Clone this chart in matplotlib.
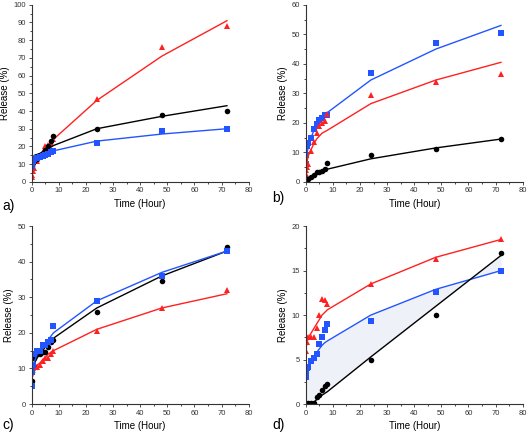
import numpy as np
import matplotlib.pyplot as plt
from matplotlib.ticker import MultipleLocator

plt.rcParams['font.family'] = ['Liberation Sans', 'DejaVu Sans']

# sampling times (hours)
t = [0, 0.25, 0.5, 1, 2, 3, 4, 5, 6, 7, 8, 24, 48, 72]

# panel a
a_red_pts = [2.5, 4, 6, 8, 12, 14, 17, 20, 21, 22, 24, 47, 76, 88]
a_red_fit = [4, 5, 7, 9, 12, 14.5, 17, 19, 20.5, 22, 24, 46, 71, 91]
a_black_pts = [9, 10, 11, 12, 13, 15, 16, 18, 20, 23, 26, 30, 38, 40]
a_black_fit = [10, 13, 14, 15, 15.5, 16, 17, 18, 18.5, 19.5, 20.5, 30, 37, 43]
a_blue_pts = [9, 11, 12, 13, 13.5, 14, 14.5, 15, 16, 17, 17.5, 22, 28.5, 30]
a_blue_fit = [8, 11, 13, 14, 14.5, 15, 15.5, 16, 16.5, 17, 17.5, 23, 27, 30]

# panel b
b_blue_pts = [6, 9, 12, 13, 15, 18, 19.5, 21, 21.5, 22.5, 22.5, 37, 47, 50.5]
b_blue_fit = [4, 8, 10, 12, 15, 17.5, 19, 20.5, 21.5, 22.5, 23.5, 34.5, 45, 53]
b_red_pts = [2.5, 4, 5, 6, 10.5, 13.5, 16.5, 19, 20, 20.5, 23, 29.5, 34, 36.5]
b_red_fit = [3, 5, 7, 9, 11, 13, 14.5, 15.5, 16.5, 17, 17.5, 26.5, 34.5, 40.5]
b_black_pts = [0, 0.5, 0.8, 1, 1.5, 2.3, 3.2, 3.5, 3.8, 4.5, 6.5, 9, 11, 14.5]
b_black_fit = [0, 0.5, 0.8, 1.2, 1.8, 2.3, 2.8, 3.2, 3.6, 4, 4.3, 7.8, 11.5, 14.5]

# panel c
c_blue_pts = [5, 9, 11, 14, 15, 15, 16.5, 16.5, 17.5, 18, 22, 29, 36, 43]
c_blue_fit = [5, 8, 10, 12, 14, 15, 16, 17, 18, 19, 20, 29, 37, 43]
c_black_pts = [6.5, 9, 11, 13, 14, 14, 14.5, 14.5, 16, 17.5, 18, 26, 34.5, 44]
c_black_fit = [6, 8, 10, 11.5, 13, 14, 15, 16, 17, 17.5, 18.5, 27, 36, 43]
c_red_pts = [5.5, 9, 10, 10.5, 10.5, 11, 12, 13, 13, 14, 15, 20.5, 27, 32]
c_red_fit = [5, 7.5, 9, 10, 11, 11.5, 12.5, 13, 14, 14.5, 15, 21, 27, 31]

# panel d
d_red_pts = [6, 7, 7, 7.5, 7.5, 7.5, 8.5, 10, 11.8, 11.7, 11.3, 13.5, 16.3, 18.5]
d_red_fit = [6, 6.5, 7, 7.5, 8, 8.5, 9, 9.5, 10, 10.3, 10.6, 13.5, 16.5, 18.5]
d_blue_pts = [3, 3.5, 4, 4.2, 4.8, 5.2, 5.6, 6.7, 7.5, 8.3, 9, 9.3, 12.6, 15]
d_blue_fit = [2.8, 3.3, 3.6, 4.2, 4.8, 5.3, 5.8, 6.2, 6.6, 6.9, 7.1, 10, 12.9, 15]
d_black_pts = [0, 0, 0, 0.1, 0.1, 0.1, 0.8, 1, 1.6, 2, 2.3, 5, 10, 17]
d_black_fit = [0, 0, 0, 0, 0, 0.2, 0.5, 0.7, 1.0, 1.2, 1.4, 5.3, 11, 16.7]

RED = '#ff2020'
BLUE = '#2255ff'
BLACK = 'black'

panels = [
    ('a)', 100, 10, [(a_red_pts, a_red_fit, RED, '^'),
                     (a_black_pts, a_black_fit, BLACK, 'o'),
                     (a_blue_pts, a_blue_fit, BLUE, 's')]),
    ('b)', 60, 10, [(b_blue_pts, b_blue_fit, BLUE, 's'),
                    (b_red_pts, b_red_fit, RED, '^'),
                    (b_black_pts, b_black_fit, BLACK, 'o')]),
    ('c)', 50, 10, [(c_red_pts, c_red_fit, RED, '^'),
                    (c_black_pts, c_black_fit, BLACK, 'o'),
                    (c_blue_pts, c_blue_fit, BLUE, 's')]),
    ('d)', 20, 5, [(d_red_pts, d_red_fit, RED, '^'),
                   (d_blue_pts, d_blue_fit, BLUE, 's'),
                   (d_black_pts, d_black_fit, BLACK, 'o')]),
]

# axes boxes in figure fractions
boxes = [
    [0.060, 0.581, 0.410, 0.408],
    [0.578, 0.581, 0.410, 0.408],
    [0.060, 0.069, 0.410, 0.410],
    [0.578, 0.069, 0.410, 0.410],
]
label_pos = [(0.005, 0.515), (0.515, 0.535), (0.005, 0.012), (0.515, 0.012)]

fig = plt.figure(figsize=(5.29, 4.34), dpi=100)

for (lab, ymax, ystep, series), box, lp in zip(panels, boxes, label_pos):
    ax = fig.add_axes(box)
    if lab == 'd)':
        # faint shaded band between blue and black fits
        ax.fill_between(t, d_black_fit, d_blue_fit, color='#eff1f8', lw=0, zorder=0)
    for pts, fit, col, mk in series:
        ax.plot(t, fit, color=col, lw=1.0)
        ax.plot(t, pts, ls='none', marker=mk, color=col, ms=4, mew=0)
    ax.set_xlim(0, 80)
    ax.set_ylim(0, ymax)
    ax.xaxis.set_major_locator(MultipleLocator(10))
    ax.xaxis.set_minor_locator(MultipleLocator(5))
    ax.yaxis.set_major_locator(MultipleLocator(ystep))
    ax.yaxis.set_minor_locator(MultipleLocator(ystep / 2))
    ax.spines['top'].set_visible(False)
    ax.spines['right'].set_visible(False)
    for s in ('left', 'bottom'):
        ax.spines[s].set_linewidth(0.8)
        ax.spines[s].set_color('#333333')
    ax.tick_params(labelsize=5.5, length=2.5, width=0.6, pad=1.5, colors='#333333')
    ax.tick_params(which='minor', length=1.5, width=0.5)
    ax.set_xlabel('Time (Hour)', fontsize=7, labelpad=3)
    ax.set_ylabel('Release (%)', fontsize=7, labelpad=3)
    fig.text(lp[0], lp[1], lab, fontsize=10)

plt.savefig('out.png', dpi=100)
